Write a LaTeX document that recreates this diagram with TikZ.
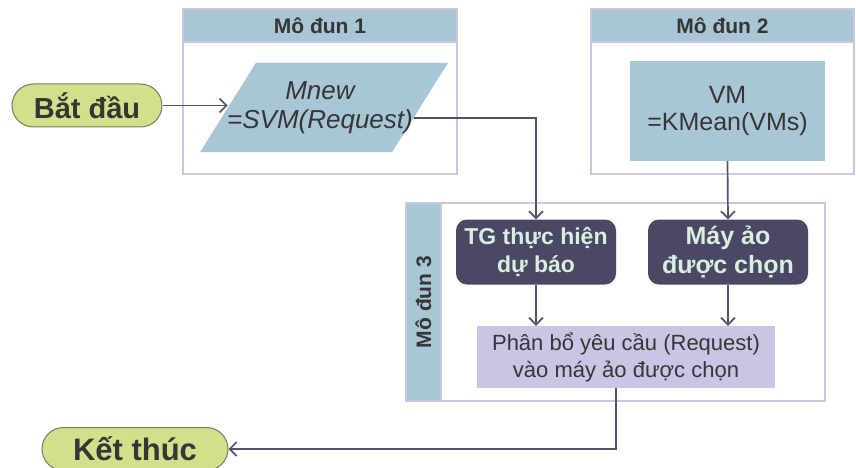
\documentclass[tikz,border=0pt]{standalone}
\usepackage{fontspec}
\setmainfont{Liberation Sans}
\usetikzlibrary{shapes.geometric,arrows.meta,calc}

\definecolor{bluefill}{HTML}{A8C6D4}
\definecolor{frameline}{HTML}{C9C8E3}
\definecolor{pillfill}{HTML}{D3DF8A}
\definecolor{pillline}{HTML}{7A7A5C}
\definecolor{darkfill}{HTML}{4B4866}
\definecolor{mint}{HTML}{D8EEDF}
\definecolor{pbfill}{HTML}{C8C5E5}
\definecolor{connc}{HTML}{55526C}
\definecolor{txt}{HTML}{363636}

\newcommand{\fsz}[2]{\fontsize{#1}{#2}\selectfont}

\begin{document}
\begin{tikzpicture}[x=1pt,y=-1pt,
  frame/.style={draw=frameline, line width=1.3pt, fill=white, inner sep=0pt},
  hdr/.style={draw=frameline, line width=1.3pt, fill=bluefill, inner sep=0pt,
    text=txt, font=\bfseries\fsz{21}{24}},
  pill/.style={draw=pillline, line width=1pt, fill=pillfill, rounded corners=21.5pt,
    minimum height=43pt, inner sep=0pt, text=txt},
  lightbox/.style={fill=bluefill, inner sep=0pt, text=txt, align=center},
  darkbox/.style={fill=darkfill, rounded corners=11pt, minimum width=160pt,
    minimum height=65pt, inner sep=0pt, text=mint, align=center},
  pbbox/.style={fill=pbfill, minimum width=298pt, minimum height=62pt,
    inner sep=0pt, text=txt, align=center, font=\fsz{22}{27}},
  conn/.style={draw=connc, line width=1.7pt},
  arr/.style={conn, -{Straight Barb[length=7pt,width=14pt,line width=1.7pt]}}
]
\useasboundingbox (0,0) rectangle (856,468);

% module frames
\node[frame, minimum width=274pt, minimum height=165pt] (mod1) at (320,91.5) {};
\node[hdr, minimum width=274pt, minimum height=33pt] (hdr1) at (320,25.5) {Mô đun 1};
\node[frame, minimum width=263pt, minimum height=165pt] (mod2) at (722.5,91.5) {};
\node[hdr, minimum width=263pt, minimum height=33pt] (hdr2) at (722.5,25.5) {Mô đun 2};
\node[frame, minimum width=419pt, minimum height=198pt] (mod3) at (615.5,302) {};
\node[hdr, minimum width=35pt, minimum height=198pt] (band3) at (423.5,302) {};
\node[text=txt, font=\bfseries\fsz{21}{24}, rotate=90] (lbl3) at (band3.center) {Mô đun 3};

% start / end terminals
\node[pill, minimum width=150pt, font=\bfseries\fsz{29}{33}] (start) at (87,105.5) {Bắt đầu};
\node[pill, minimum width=186pt, font=\bfseries\fsz{31}{35}] (stop) at (135,449) {Kết thúc};

% module 1: prediction (shape, then its label set slightly left of centre)
\node[trapezium, trapezium left angle=63.7, trapezium right angle=116.3,
  trapezium stretches=true, minimum width=248pt, minimum height=89pt,
  fill=bluefill, inner sep=0pt] (para) at (324,107.5) {\phantom{M}};
\node[text=txt, align=center, font=\itshape\fsz{26}{29}] (paratext) at (320,107.5)
  {Mnew\\=SVM(Request)};

% module 2: clustering
\node[lightbox, minimum width=195pt, minimum height=100pt, font=\fsz{25}{27}]
  (vm) at (727.5,111) {VM\\=KMean(VMs)};

% module 3: allocation
\node[darkbox, font=\bfseries\fsz{23}{28}] (tg) at (536,252) {TG thực hiện\\dự báo};
\node[darkbox, font=\bfseries\fsz{25}{29}] (may) at (728,252) {Máy ảo\\được chọn};
\node[pbbox] (pb) at (626,357) {Phân bổ yêu cầu (Request)\\vào máy ảo được chọn};

% connectors
\draw[arr] (start.east) -- (start.east -| para.west);
\draw[arr] ($(para.east)!0.24!(para.bottom right corner)$) -| (tg.north);
\draw[arr] (vm.south) -- (may.north);
\draw[arr] (tg.south) -- (tg.south |- pb.north);
\draw[arr] (may.south) -- (may.south |- pb.north);
\draw[arr] ([xshift=-10pt]pb.south) |- (stop.east);
\end{tikzpicture}
\end{document}
